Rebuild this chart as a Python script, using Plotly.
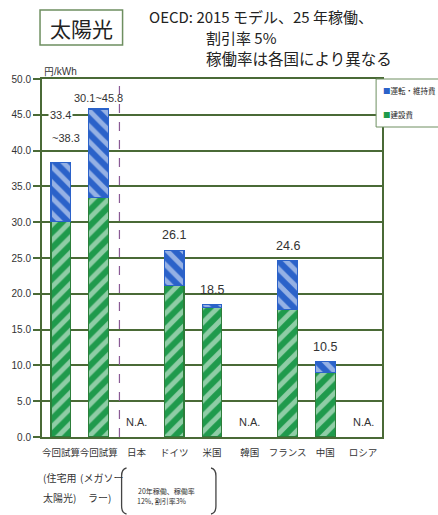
import plotly.graph_objects as go

categories = ["今回試算(住宅用)", "今回試算(メガソーラー)", "日本", "ドイツ", "米国", "韓国", "フランス", "中国", "ロシア"]
tick_labels = ["今回試算", "今回試算", "日本", "ドイツ", "米国", "韓国", "フランス", "中国", "ロシア"]
construction = [30.1, 33.4, None, 21.2, 18.1, None, 17.8, 9.0, None]   # 建設費
operation = [8.2, 12.4, None, 4.9, 0.4, None, 6.8, 1.5, None]        # 運転・維持費
value_labels = ["", "", "N.A.", "26.1", "18.5", "N.A.", "24.6", "10.5", "N.A."]
totals = [38.3, 45.8, None, 26.1, 18.5, None, 24.6, 10.5, None]
y_ticks = [0, 5, 10, 15, 20, 25, 30, 35, 40, 45, 50]

GREEN = "#1f9a4c"
BLUE = "#2b62c9"
GRID = "#4a6a36"
FONT = "Noto Sans CJK JP"
NARROW = "Liberation Sans Narrow, Arial"

fig = go.Figure()
fig.add_bar(x=categories, y=construction, name="建設費", width=0.52,
            marker=dict(color=GREEN, line=dict(color="#2d7d3a", width=1.2),
                        pattern=dict(shape="/", fgcolor="white", fillmode="overlay",
                                     size=11, solidity=0.45)))
fig.add_bar(x=categories, y=operation, name="運転・維持費", width=0.52,
            marker=dict(color=BLUE, line=dict(color=BLUE, width=1.2),
                        pattern=dict(shape="\\", fgcolor="white", fillmode="overlay",
                                     size=11, solidity=0.45)))

ann = []

def A(**kw):
    kw.setdefault("showarrow", False)
    kw.setdefault("xanchor", "center")
    kw.setdefault("yanchor", "middle")
    ann.append(kw)

for i, (lab, tot) in enumerate(zip(value_labels, totals)):
    if lab == "N.A.":
        A(x=categories[i], y=2.1, text="N.A.", font=dict(family=NARROW, size=11, color="#333"))
    elif lab:
        A(x=categories[i], y=tot + 2.1, text=lab, font=dict(family="Liberation Sans, Arial", size=12.5, color="#333"))
A(x=categories[0], y=45, text="33.4", bgcolor="white", font=dict(family=NARROW, size=11, color="#333"))
A(x=categories[0], y=41.7, xshift=5, text="~38.3", font=dict(family=NARROW, size=11, color="#333"))
A(x=categories[1], y=47.4, text="30.1~45.8", font=dict(family=NARROW, size=11, color="#333"))

def py(p):
    return (437 - p) / 358.0
def px(p):
    return (p - 36) / 346.0

for txt, xx, yy in [("(住宅用", 54, 478), ("太陽光)", 54, 497), ("(メガソー", 97, 478), ("ラー)", 95, 497)]:
    A(xref="paper", yref="paper", x=px(xx), y=py(yy), text=txt, font=dict(family=FONT, size=10, color="#333"))
A(xref="paper", yref="paper", x=px(163), y=py(491), text="20年稼働、稼働率", font=dict(family=FONT, size=7, color="#333"))
A(xref="paper", yref="paper", x=px(158), y=py(501), text="12%, 割引率3%", font=dict(family=FONT, size=7, color="#333"))

A(xref="paper", yref="paper", x=px(76), y=py(28), text="太陽光", font=dict(family=FONT, size=21, color="#222"))
A(xref="paper", yref="paper", x=px(143), y=py(16), xanchor="left",
  text="OECD: 2015 モデル、25 年稼働、", font=dict(family=FONT, size=15, color="#222"))
A(xref="paper", yref="paper", x=px(201), y=py(37), xanchor="left",
  text="割引率 5%", font=dict(family=FONT, size=15, color="#222"))
A(xref="paper", yref="paper", x=px(201), y=py(58), xanchor="left",
  text="稼働率は各国により異なる", font=dict(family=FONT, size=15.5, color="#222"))
A(xref="paper", yref="paper", x=px(36), y=py(71), xanchor="left",
  text="円/kWh", font=dict(family=NARROW, size=10, color="#333"))

A(xref="paper", yref="paper", x=px(381), y=py(91), xanchor="left",
  text="<span style='color:%s'>■</span>運転・維持費" % BLUE, font=dict(family=FONT, size=7.5, color="#222"))
A(xref="paper", yref="paper", x=px(381), y=py(114), xanchor="left",
  text="<span style='color:%s'>■</span>建設費" % GREEN, font=dict(family=FONT, size=7.5, color="#222"))

shapes = [
    dict(type="line", xref="x", yref="y", x0=1.55, x1=1.55, y0=0, y1=49.6,
         line=dict(color="#8a5a95", width=1.2, dash="dash")),
    dict(type="rect", xref="paper", yref="paper", x0=px(34), x1=px(118), y0=py(45), y1=py(10),
         line=dict(color="#6e8f60", width=1.5), fillcolor="white", layer="below"),
    dict(type="rect", xref="paper", yref="paper", x0=px(376), x1=px(440), y0=py(127), y1=py(79),
         line=dict(color="#6e8f60", width=1), fillcolor="white"),
    dict(type="path", xref="paper", yref="paper",
         path="M %f %f Q %f %f %f %f L %f %f Q %f %f %f %f" % (
             px(122), py(468), px(117), py(469), px(117), py(476),
             px(117), py(506), px(117), py(513), px(122), py(514)),
         line=dict(color="#444", width=1.3)),
    dict(type="path", xref="paper", yref="paper",
         path="M %f %f Q %f %f %f %f L %f %f Q %f %f %f %f" % (
             px(208), py(468), px(213), py(469), px(213), py(476),
             px(213), py(506), px(213), py(513), px(208), py(514)),
         line=dict(color="#444", width=1.3)),
]

fig.update_layout(
    width=438, height=515,
    margin=dict(l=36, r=56, t=79, b=78),
    plot_bgcolor="white", paper_bgcolor="white",
    barmode="stack", showlegend=False,
    annotations=ann, shapes=shapes,
    xaxis=dict(tickmode="array", tickvals=categories, ticktext=tick_labels,
               tickfont=dict(family=FONT, size=9.5, color="#333"), ticks="", tickangle=0,
               ticklabelstandoff=6,
               showline=True, linecolor=GRID, linewidth=2, mirror=True, showgrid=False,
               range=[-0.5, 8.5]),
    yaxis=dict(range=[0, 50], tickvals=y_ticks, ticktext=["%.1f" % v for v in y_ticks],
               tickfont=dict(family=NARROW, size=10, color="#333"),
               ticks="outside", ticklen=7, tickcolor=GRID, tickwidth=1.5,
               showline=True, linecolor=GRID, linewidth=2, mirror=True,
               showgrid=True, gridcolor=GRID, gridwidth=2, zeroline=False),
)

fig.write_html("out.html")
